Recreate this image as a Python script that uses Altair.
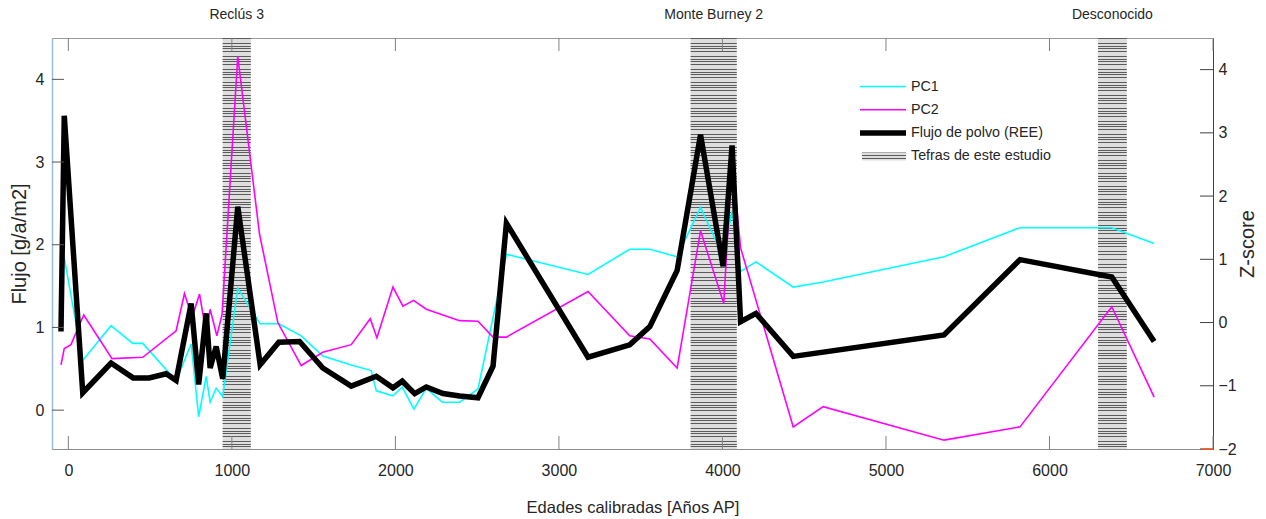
import altair as alt
import pandas as pd

FONT = "Liberation Sans, Arial, sans-serif"
TXT = "#262626"

# ---- data ----
flux_age = [-45, -25, 88, 261, 396, 494, 598, 659, 751, 797, 843, 867, 904, 944, 1036,
            1173, 1287, 1414, 1556, 1730, 1883, 1985, 2042, 2118, 2189, 2291, 2393, 2505,
            2597, 2679, 3178, 3433, 3556, 3723, 3866, 4004, 4059, 4111, 4205, 4433, 5355,
            5820, 6381, 6640]
flux_val = [0.95, 3.56, 0.21, 0.57, 0.39, 0.39, 0.44, 0.36, 1.29, 0.31, 1.17, 0.51, 0.77,
            0.38, 2.46, 0.55, 0.82, 0.83, 0.51, 0.29, 0.41, 0.27, 0.35, 0.20, 0.28, 0.20,
            0.17, 0.15, 0.53, 2.26, 0.64, 0.79, 1.01, 1.69, 3.33, 1.74, 3.20, 1.07, 1.17,
            0.65, 0.91, 1.82, 1.61, 0.83]

pc1_age = [-45, -25, 88, 261, 394, 455, 659, 751, 797, 843, 867, 904, 944, 1036, 1173, 1287,
           1424, 1556, 1730, 1852, 1883, 1985, 2042, 2113, 2189, 2287, 2393, 2505, 2679,
           3178, 3433, 3556, 3723, 3866, 4004, 4059, 4111, 4205, 4433, 4616, 5355, 5820,
           6381, 6640]
pc1_val = [1.12, 1.02, -0.60, -0.05, -0.33, -0.33, -0.92, -0.34, -1.49, -0.85, -1.26, -1.04,
           -1.17, 0.54, -0.02, -0.02, -0.21, -0.53, -0.67, -0.76, -1.08, -1.16, -1.02,
           -1.37, -1.04, -1.26, -1.26, -1.05, 1.08, 0.76, 1.16, 1.16, 1.04, 1.82, 1.05,
           1.76, 0.81, 0.96, 0.56, 0.64, 1.04, 1.50, 1.50, 1.25]

pc2_age = [-45, -25, 16, 94, 267, 455, 659, 710, 757, 802, 843, 867, 908, 940, 1036, 1169,
           1281, 1424, 1556, 1730, 1846, 1887, 1985, 2046, 2111, 2189, 2393, 2505, 2597,
           2679, 3178, 3433, 3556, 3723, 3866, 4008, 4059, 4111, 4433, 4616, 5355, 5820,
           6381, 6640]
pc2_val = [-0.67, -0.41, -0.35, 0.12, -0.57, -0.55, -0.13, 0.46, 0.08, 0.45, -0.17, 0.21,
           -0.21, 0.13, 4.21, 1.40, 0.00, -0.68, -0.47, -0.35, 0.06, -0.24, 0.56, 0.26,
           0.35, 0.21, 0.03, 0.02, -0.23, -0.23, 0.49, -0.21, -0.26, -0.72, 1.45, 0.30,
           2.61, 1.18, -1.65, -1.33, -1.86, -1.65, 0.25, -1.18]

tephra_names = ["Reclús 3", "Monte Burney 2", "Desconocido"]
tephra_start = [943, 3805, 6297]
tephra_end = [1116, 4088, 6473]

x_ticks = [0, 1000, 2000, 3000, 4000, 5000, 6000, 7000]
flux_ticks = [0, 1, 2, 3, 4]
z_ticks = [-2, -1, 0, 1, 2, 3, 4]

legend_labels = ["PC1", "PC2", "Flujo de polvo (REE)", "Tefras de este estudio"]
series_names = ["PC1", "PC2"]
series_colors = ["#00ffff", "#ff00ff"]

# ---- layout ----
W, H = 1161, 411
X_DOMAIN = [-100, 7000]
FLUX_DOMAIN = [-0.47, 4.5]
Z_DOMAIN = [-2, 4.5]


def stripes(n, dark="#5c5c5c", light="#dedede", duty=0.3):
    stops = []
    for i in range(n):
        a = i / n
        b = (i + duty) / n
        c = (i + 1) / n
        stops += [alt.GradientStop(color=dark, offset=a),
                  alt.GradientStop(color=dark, offset=b),
                  alt.GradientStop(color=light, offset=b),
                  alt.GradientStop(color=light, offset=min(c, 1.0))]
    return alt.LinearGradient(gradient="linear", stops=stops, x1=0, x2=0, y1=0, y2=1)


xscale = alt.Scale(domain=X_DOMAIN, nice=False, zero=False)
x_axis = alt.Axis(values=x_ticks, format="d", ticks=False, tickSize=0, domainColor="#8c8c8c",
                  labelFont=FONT, labelFontSize=16, labelColor=TXT, labelPadding=13,
                  labelFlush=False, title="Edades calibradas [Años AP]", titleFont=FONT,
                  titleFontSize=16.5, titleFontWeight="normal", titleColor=TXT,
                  titleY=58, titleBaseline="middle", grid=False)
left_axis = alt.Axis(values=flux_ticks, format="d", ticks=False, tickSize=0,
                     domainColor="#9bbbd9", domainWidth=1.5, labelFont=FONT,
                     labelFontSize=16, labelColor=TXT, labelPadding=8,
                     title="Flujo [g/a/m2]", titleFont=FONT, titleFontSize=20,
                     titleFontWeight="normal", titleColor=TXT, titleX=-33,
                     titleBaseline="middle", titleAngle=270, grid=False)
right_axis = alt.Axis(orient="right", values=z_ticks, format="d", ticks=False, tickSize=0,
                      domainColor="#404040", labelFont=FONT, labelFontSize=16,
                      labelColor=TXT, labelPadding=5, title="Z-score", titleFont=FONT,
                      titleFontSize=20, titleFontWeight="normal", titleColor=TXT,
                      titleX=34, titleBaseline="middle", titleAngle=270, grid=False)

fscale = alt.Scale(domain=FLUX_DOMAIN, nice=False, zero=False)
zscale = alt.Scale(domain=Z_DOMAIN, nice=False, zero=False)

flux_df = pd.DataFrame({"age": flux_age, "flux": flux_val})
pc_df = pd.concat([
    pd.DataFrame({"age": pc1_age, "z": pc1_val, "series": "PC1", "o": range(len(pc1_age))}),
    pd.DataFrame({"age": pc2_age, "z": pc2_val, "series": "PC2", "o": range(len(pc2_age))}),
])
teph_df = pd.DataFrame({"name": tephra_names, "start": tephra_start, "end": tephra_end})
teph_df["center"] = (teph_df["start"] + teph_df["end"]) / 2
xt_df = pd.DataFrame({"t": x_ticks})
ft_df = pd.DataFrame({"t": flux_ticks})
zt_df = pd.DataFrame({"t": z_ticks})
one = pd.DataFrame({"k": [0]})

bands = alt.Chart(teph_df).mark_rect(fill=stripes(158), strokeWidth=0).encode(
    x=alt.X("start:Q", scale=xscale, axis=x_axis),
    x2="end:Q",
    y=alt.value(0), y2=alt.value(H),
)

pc_lines = alt.Chart(pc_df).mark_line(strokeWidth=1.6).encode(
    x=alt.X("age:Q", scale=xscale, axis=x_axis),
    y=alt.Y("z:Q", scale=zscale, axis=right_axis),
    color=alt.Color("series:N", scale=alt.Scale(domain=series_names, range=series_colors),
                    legend=None),
    order="o:Q",
)
z_tick_marks = alt.Chart(zt_df).mark_rule(color="#404040", strokeWidth=1).encode(
    y=alt.Y("t:Q", scale=zscale, axis=right_axis),
    x=alt.value(W), x2=alt.value(W - 13),
)
right_group = alt.layer(pc_lines, z_tick_marks)

flux_line = alt.Chart(flux_df).mark_line(color="black", strokeWidth=5.5).encode(
    x=alt.X("age:Q", scale=xscale, axis=x_axis),
    y=alt.Y("flux:Q", scale=fscale, axis=left_axis),
)
f_tick_marks = alt.Chart(ft_df).mark_rule(color="#555555", strokeWidth=1).encode(
    y=alt.Y("t:Q", scale=fscale, axis=left_axis),
    x=alt.value(0), x2=alt.value(12),
)
left_group = alt.layer(flux_line, f_tick_marks)

x_bottom_ticks = alt.Chart(xt_df).mark_rule(color="#808080", strokeWidth=1).encode(
    x=alt.X("t:Q", scale=xscale, axis=x_axis),
    y=alt.value(H), y2=alt.value(H - 13),
)
x_top_ticks = alt.Chart(xt_df).mark_rule(color="#808080", strokeWidth=1).encode(
    x=alt.X("t:Q", scale=xscale, axis=x_axis),
    y=alt.value(0), y2=alt.value(13),
)

band_labels = alt.Chart(teph_df).mark_text(font=FONT, fontSize=14, color=TXT,
                                           baseline="middle", align="center").encode(
    x=alt.X("center:Q", scale=xscale, axis=x_axis),
    y=alt.value(-23),
    text="name:N",
)

stub = alt.Chart(one).mark_rule(color="#ff5a1f", strokeWidth=1.5).encode(
    x=alt.value(W - 12), x2=alt.value(W), y=alt.value(H),
)

# ---- legend (drawn by hand) ----
leg_layers = []
styles = [("#00ffff", 1.6), ("#ff00ff", 1.6), ("black", 5.5)]
for i, label in enumerate(legend_labels):
    yy = 48.5 + 23.3 * i
    if i < 3:
        col, sw = styles[i]
        leg_layers.append(alt.Chart(one).mark_rule(color=col, strokeWidth=sw).encode(
            x=alt.value(808), x2=alt.value(854), y=alt.value(yy)))
    else:
        leg_layers.append(alt.Chart(one).mark_rect(fill=stripes(3), strokeWidth=0).encode(
            x=alt.value(810), x2=alt.value(854), y=alt.value(yy - 4), y2=alt.value(yy + 4)))
    leg_layers.append(alt.Chart(pd.DataFrame({"label": [label]})).mark_text(
        font=FONT, fontSize=14.3, color=TXT, align="left", baseline="middle").encode(
        x=alt.value(859), y=alt.value(yy), text="label:N"))

chart = alt.layer(
    bands, right_group, left_group, x_bottom_ticks, x_top_ticks, band_labels, stub,
    *leg_layers
).resolve_scale(y="independent").properties(
    width=W, height=H,
    autosize=alt.AutoSizeParams(type="none"),
    padding={"left": 52, "top": 38, "right": 53, "bottom": 70},
).configure_view(stroke="#9a9a9a", strokeWidth=1).configure_axis(grid=False)

chart.save("out.html", embed_options={"renderer": "svg", "actions": False})
